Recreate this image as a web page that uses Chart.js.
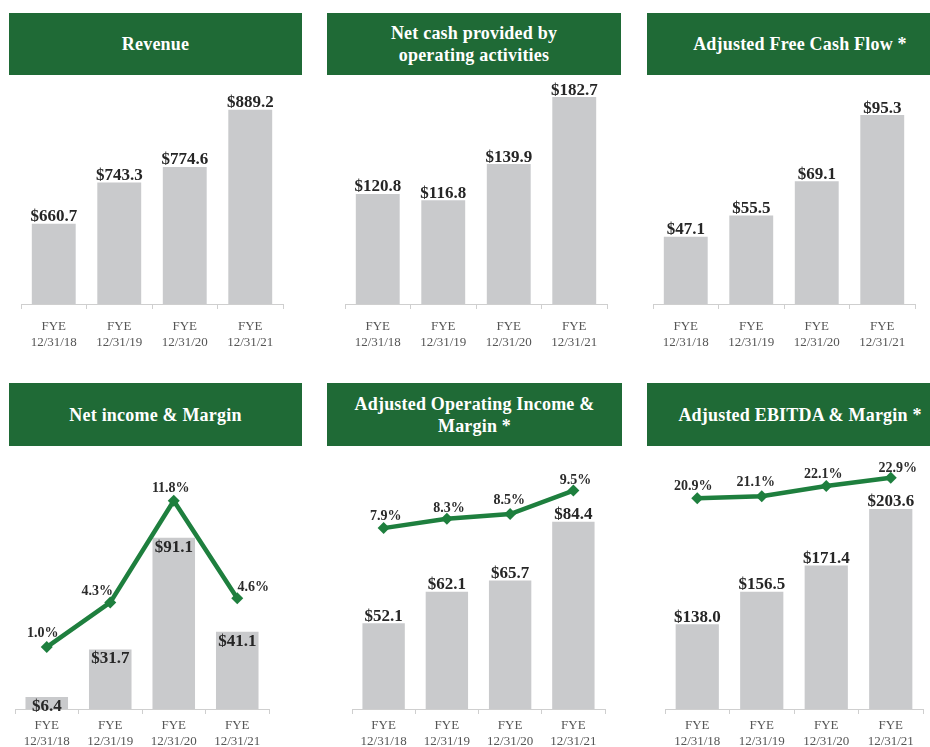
<!DOCTYPE html>
<html>
<head>
<meta charset="utf-8">
<script src="https://cdn.jsdelivr.net/npm/chart.js@4.4.1/dist/chart.umd.min.js"></script>
<style>
  html, body { margin:0; padding:0; background:#fff; width:930px; height:747px; overflow:hidden; position:relative; }
  .hdr { position:absolute; background:#1f6a36; color:#fff; font-family:"Liberation Serif","Times New Roman",serif; font-weight:bold; font-size:18px; line-height:22px; display:flex; align-items:center; justify-content:center; text-align:center; letter-spacing:0.2px; }
  canvas { position:absolute; }
</style>
</head>
<body>
<div class="hdr" style="left:9px;top:13px;width:293px;height:62px;">Revenue</div>
<div class="hdr" style="left:327px;top:13px;width:294px;height:62px;">Net cash provided by<br>operating activities</div>
<div class="hdr" style="left:647px;top:13px;width:306px;height:62px;">Adjusted Free Cash Flow *</div>
<div class="hdr" style="left:9px;top:383px;width:293px;height:63px;">Net income &amp; Margin</div>
<div class="hdr" style="left:327px;top:383px;width:295px;height:63px;">Adjusted Operating Income &amp;<br>Margin *</div>
<div class="hdr" style="left:647px;top:383px;width:306px;height:63px;">Adjusted EBITDA &amp; Margin *</div>

<canvas id="c1"></canvas>
<canvas id="c2"></canvas>
<canvas id="c3"></canvas>
<canvas id="c4"></canvas>
<canvas id="c5"></canvas>
<canvas id="c6"></canvas>

<script>
// ---- DATA ----
const categories = [["FYE","12/31/18"],["FYE","12/31/19"],["FYE","12/31/20"],["FYE","12/31/21"]];
const revenue = [660.7, 743.3, 774.6, 889.2];
const netCashOps = [120.8, 116.8, 139.9, 182.7];
const adjFreeCashFlow = [47.1, 55.5, 69.1, 95.3];
const netIncome = [6.4, 31.7, 91.1, 41.1];
const netIncomeMargin = [1.0, 4.3, 11.8, 4.6];
const adjOpIncome = [52.1, 62.1, 65.7, 84.4];
const adjOpMargin = [7.9, 8.3, 8.5, 9.5];
const adjEbitda = [138.0, 156.5, 171.4, 203.6];
const adjEbitdaMargin = [20.9, 21.1, 22.1, 22.9];

// ---- STYLE / LAYOUT ----
const SERIF = '"Liberation Serif","Times New Roman",serif';
const BAR_GRAY = '#c9cacc';
const LINE_GREEN = '#1e7f3e';
const AXIS_GRAY = '#cfcfcf';

const panels = [
  { id:'c1', left:0,   top:80,  width:310, height:268, pad:{left:21,right:27,top:10,bottom:0}, axisH:44, tickPad:9,
    bars:revenue, yMin:500, yMax:928.9, labelInside:false },
  { id:'c2', left:315, top:80,  width:310, height:268, pad:{left:30,right:18,top:10,bottom:0}, axisH:44, tickPad:9,
    bars:netCashOps, yMin:50.5, yMax:187.2, labelInside:false },
  { id:'c3', left:635, top:80,  width:295, height:268, pad:{left:18,right:15,top:10,bottom:0}, axisH:44, tickPad:9,
    bars:adjFreeCashFlow, yMin:20.5, yMax:105.25, labelInside:false },
  { id:'c4', left:0,   top:450, width:310, height:300, pad:{left:15,right:41,top:10,bottom:0}, axisH:41, tickPad:3,
    bars:netIncome, yMin:0, yMax:132.5, labelInside:true,
    line:netIncomeMargin, y1Min:-3.57, y1Max:14.81, pctDx:[-4,-13,-3,16], pctDy:[-10,-7,-9,-7] },
  { id:'c5', left:315, top:450, width:310, height:300, pad:{left:37,right:20,top:10,bottom:0}, axisH:41, tickPad:3,
    bars:adjOpIncome, yMin:24.86, yMax:104.0, labelInside:false,
    line:adjOpMargin, y1Min:0.2, y1Max:10.8, pctDx:[2,2,-1,2], pctDy:[-8,-7,-10,-7] },
  { id:'c6', left:635, top:450, width:295, height:300, pad:{left:30,right:7,top:10,bottom:0}, axisH:41, tickPad:3,
    bars:adjEbitda, yMin:89.8, yMax:231.4, labelInside:false,
    line:adjEbitdaMargin, y1Min:0.45, y1Max:24.62, pctDx:[-4,-6,-3,7], pctDy:[-8,-10,-8,-6] }
];

const labelPlugin = {
  id:'valueLabels',
  afterDatasetsDraw(chart, args, opts) {
    const p = opts.panel;
    const ctx = chart.ctx;
    ctx.save();
    const barMeta = chart.getDatasetMeta(chart.data.datasets.findIndex(d => d.type === 'bar'));
    ctx.fillStyle = '#262626';
    ctx.font = 'bold 17px ' + SERIF;
    ctx.textAlign = 'center';
    barMeta.data.forEach((el, i) => {
      const txt = '$' + p.bars[i].toFixed(1);
      if (p.labelInside) {
        ctx.textBaseline = 'top';
        ctx.fillText(txt, el.x, el.y + 1);
      } else {
        ctx.textBaseline = 'alphabetic';
        ctx.fillText(txt, el.x, el.y - 2.5);
      }
    });
    if (p.line) {
      const li = chart.data.datasets.findIndex(d => d.type === 'line');
      const lm = chart.getDatasetMeta(li);
      ctx.font = 'bold 14px ' + SERIF;
      ctx.fillStyle = '#2b2b2b';
      ctx.textBaseline = 'alphabetic';
      lm.data.forEach((el, i) => {
        ctx.fillText(p.line[i].toFixed(1) + '%', el.x + p.pctDx[i], el.y + p.pctDy[i]);
      });
    }
    ctx.restore();
  }
};

panels.forEach(p => {
  const cv = document.getElementById(p.id);
  cv.style.left = p.left + 'px';
  cv.style.top = p.top + 'px';
  cv.style.width = p.width + 'px';
  cv.style.height = p.height + 'px';
  cv.width = p.width; cv.height = p.height;

  const datasets = [];
  if (p.line) {
    datasets.push({
      type:'line', data:p.line, yAxisID:'y1', order:0,
      borderColor:LINE_GREEN, backgroundColor:LINE_GREEN, borderWidth:4.5,
      pointStyle:'rectRot', pointRadius:6, pointHoverRadius:6,
      pointBackgroundColor:LINE_GREEN, pointBorderColor:LINE_GREEN, pointBorderWidth:0,
      tension:0, clip:false
    });
  }
  datasets.push({
    type:'bar', data:p.bars, yAxisID:'y', order:1,
    backgroundColor:BAR_GRAY, borderWidth:0,
    categoryPercentage:1.0, barPercentage:0.67
  });

  const scales = {
    x: {
      offset:true,
      grid:{ display:true, drawOnChartArea:false, drawTicks:true, tickLength:5, color:AXIS_GRAY, offset:true },
      border:{ display:true, color:AXIS_GRAY, width:1 },
      ticks:{ color:'#555', font:{ family:SERIF, size:13, lineHeight:1.27 }, padding:p.tickPad, maxRotation:0, autoSkip:false },
      afterFit(scale){ scale.height = p.axisH; }
    },
    y: { display:false, min:p.yMin, max:p.yMax }
  };
  if (p.line) scales.y1 = { display:false, min:p.y1Min, max:p.y1Max };

  new Chart(cv, {
    data:{ labels:categories, datasets },
    options:{
      responsive:false, animation:false, devicePixelRatio:1,
      layout:{ padding:p.pad },
      plugins:{ legend:{display:false}, tooltip:{enabled:false}, valueLabels:{ panel:p } },
      scales
    },
    plugins:[labelPlugin]
  });
});
</script>
</body>
</html>
